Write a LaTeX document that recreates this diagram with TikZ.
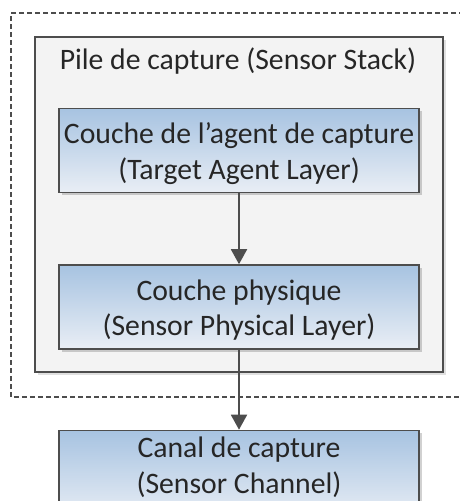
\documentclass[tikz,border=0pt]{standalone}
\usepackage{fontspec}
\setmainfont{Carlito}
\usetikzlibrary{arrows.meta,shadows}
\definecolor{txt}{HTML}{262626}
\definecolor{edge}{HTML}{4D4D4D}
\definecolor{layertop}{HTML}{A7C3E1}
\definecolor{layerbot}{HTML}{E9EEF5}
\definecolor{stackfill}{HTML}{F3F3F3}
% fixed first-line height so every layer label sits the same way
\newcommand\firstline{\rule{0pt}{27pt}}
% extra room below the last line, to lift a label within its box
\newcommand\lastline[1]{\rule[-#1]{0pt}{#1}}
\tikzset{
  layer/.style={draw=edge, line width=1.6pt, top color=layertop, bottom color=layerbot,
    minimum width=360pt, minimum height=84pt, inner sep=0pt, align=center,
    font=\fontsize{29.7}{35.5}\selectfont, text=txt,
    drop shadow={shadow xshift=2.5pt, shadow yshift=-2.5pt, fill=black, opacity=0.18}},
  stackbox/.style={draw=edge, line width=1.6pt, fill=stackfill,
    drop shadow={shadow xshift=2.5pt, shadow yshift=-2.5pt, fill=black, opacity=0.12}},
  zone/.style={draw=edge, line width=1.1pt, dash pattern=on 5pt off 3pt},
  flow/.style={draw=edge, line width=1.9pt, -{Triangle[length=15pt, width=16pt]}},
  title/.style={font=\fontsize{29.7}{35.5}\selectfont, text=txt, inner sep=0pt}
}
\begin{document}
\begin{tikzpicture}[x=1pt, y=-1pt]
  \useasboundingbox (0,0) rectangle (460,501);
  \fill[white] (0,0) rectangle (460,501);
  % dashed sensor zone (runs off the right edge)
  \draw[zone] (480,13) -- (11,13) -- (11,397) -- (480,397);
  % sensor stack container
  \draw[stackbox] (35,37) rectangle (443,372);
  \node[title, anchor=base] (stack) at (238,69) {Pile de capture (Sensor Stack)};
  % layers
  \node[layer] (agent) at (239,150.5) {\firstline Couche de l’agent de capture\\(Target Agent Layer)};
  \node[layer] (phys) at (239,307) {\firstline Couche physique\\(Sensor Physical Layer)};
  \node[layer] (chan) at (239,475) {\firstline Canal de capture\\(Sensor Channel)\lastline{26.5pt}};
  % connectors
  \draw[flow] (agent.south) -- (phys.north);
  \draw[flow] (phys.south) -- (chan.north);
\end{tikzpicture}
\end{document}
